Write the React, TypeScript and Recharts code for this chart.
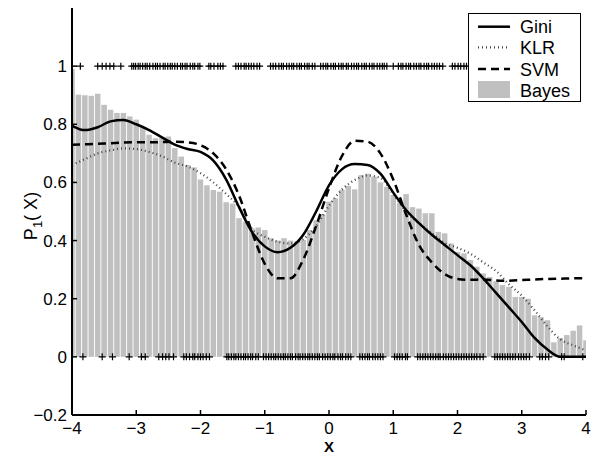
import { Bar, ComposedChart, Legend, Line, Scatter, XAxis, YAxis } from "recharts";

const FONT = "'Liberation Sans', Arial, Helvetica, sans-serif";

// histogram bins of the Bayes posterior, one every 0.1 from -4 to 4
const binX = Array.from({ length: 81 }, (_, i) => Math.round((-4 + i * 0.1) * 10) / 10);
const bayes = [
  0.99, 0.902, 0.9, 0.898, 0.905, 0.867, 0.85, 0.839, 0.839, 0.827,
  0.816, 0.79, 0.764, 0.752, 0.752, 0.758, 0.718, 0.689, 0.66, 0.652,
  0.61, 0.59, 0.574, 0.568, 0.532, 0.527, 0.477, 0.465, 0.442, 0.445,
  0.436, 0.408, 0.4, 0.408, 0.4, 0.396, 0.402, 0.436, 0.47, 0.49,
  0.534, 0.545, 0.574, 0.588, 0.576, 0.625, 0.63, 0.62, 0.6, 0.585,
  0.557, 0.53, 0.56, 0.515, 0.51, 0.494, 0.494, 0.43, 0.425, 0.39,
  0.361, 0.356, 0.333, 0.31, 0.287, 0.275, 0.26, 0.247, 0.241, 0.206,
  0.206, 0.2, 0.143, 0.137, 0.126, 0.05, 0.065, 0.075, 0.09, 0.108,
  0.057,
];

// estimated curves, sampled every 0.2
const curveX = Array.from({ length: 41 }, (_, i) => Math.round((-4 + i * 0.2) * 10) / 10);
const gini = [
  0.795, 0.78, 0.79, 0.81, 0.815, 0.8, 0.78, 0.755, 0.73, 0.715,
  0.705, 0.675, 0.61, 0.515, 0.43, 0.38, 0.36, 0.375, 0.42, 0.5,
  0.59, 0.645, 0.663, 0.66, 0.63, 0.565, 0.505, 0.46, 0.42, 0.385,
  0.35, 0.315, 0.27, 0.22, 0.17, 0.12, 0.065, 0.025, 0, 0,
  0,
];
const klr = [
  0.66, 0.68, 0.7, 0.71, 0.717, 0.715, 0.705, 0.69, 0.668, 0.655,
  0.632, 0.6, 0.56, 0.515, 0.44, 0.413, 0.396, 0.39, 0.405, 0.45,
  0.52, 0.575, 0.608, 0.624, 0.615, 0.56, 0.5, 0.46, 0.425, 0.392,
  0.375, 0.355, 0.325, 0.295, 0.25, 0.21, 0.16, 0.105, 0.06, 0.04,
  0.022,
];
const svm = [
  0.73, 0.731, 0.733, 0.735, 0.737, 0.738, 0.738, 0.739, 0.74, 0.738,
  0.728, 0.7, 0.645, 0.555, 0.43, 0.32, 0.27, 0.27, 0.335, 0.45,
  0.58, 0.69, 0.743, 0.74, 0.7, 0.61, 0.49, 0.385, 0.325, 0.285,
  0.268, 0.265, 0.266, 0.263, 0.262, 0.264, 0.266, 0.268, 0.269, 0.27,
  0.27,
];

// training points of each class
const classOne = [
  -3.87, -3.6, -3.53, -3.47, -3.41, -3.35, -3.24,
  -3.07, -3.04, -3.01, -2.97, -2.94, -2.9, -2.86, -2.83, -2.79, -2.74, -2.7, -2.67, -2.63, -2.58,
  -2.55, -2.51, -2.47, -2.44, -2.4, -2.36, -2.31, -2.28, -2.24, -2.21, -2.16, -2.12, -2.09, -2.04, -2.01,
  -1.87, -1.84, -1.79, -1.73, -1.69, -1.65,
  -1.45, -1.41, -1.37, -1.32, -1.29, -1.25, -1.21, -1.17, -1.12, -1.08,
  -0.91, -0.87, -0.83, -0.78, -0.74, -0.71, -0.66, -0.62, -0.58, -0.55, -0.5, -0.46, -0.43, -0.38,
  -0.34, -0.31, -0.26, -0.22,
  -0.13, -0.09, -0.05, -0.02, 0.03, 0.07, 0.1, 0.15, 0.19, 0.22, 0.27, 0.3, 0.35, 0.39, 0.43, 0.46,
  0.51, 0.55, 0.58, 0.63, 0.67, 0.7, 0.75, 0.79, 0.83, 0.86, 0.9,
  1.0,
  1.08, 1.12, 1.15, 1.2, 1.24, 1.27, 1.32, 1.36, 1.4, 1.43, 1.48, 1.52, 1.55, 1.6, 1.64, 1.68, 1.72, 1.77,
  1.92, 1.96, 2.01, 2.05, 2.1, 2.14,
  2.3, 2.38, 2.45, 2.6, 2.75, 2.9, 3.1, 3.3, 3.5,
];
const classZero = [
  -3.83, -3.53, -3.37, -3.11, -2.92, -2.86,
  -2.65, -2.59, -2.54, -2.49, -2.42,
  -2.26, -2.22, -2.17, -2.12, -2.09, -2.04, -2.0, -1.96, -1.91, -1.86,
  -1.59, -1.56, -1.52, -1.48, -1.45, -1.41, -1.37, -1.33, -1.3, -1.26, -1.22, -1.19, -1.14, -1.1,
  -1.02, -0.98, -0.94, -0.9, -0.86, -0.83, -0.79, -0.75, -0.71, -0.68, -0.64, -0.6, -0.57, -0.52,
  -0.48, -0.45, -0.41, -0.37, -0.33, -0.3, -0.26, -0.22, -0.18, -0.15,
  -0.1, -0.06, -0.02, 0.02, 0.06, 0.09, 0.14, 0.18, 0.21, 0.26, 0.3, 0.34,
  0.48, 0.52, 0.56, 0.6, 0.63, 0.68, 0.72, 0.76, 0.8, 0.84,
  1.02, 1.06, 1.1, 1.14, 1.19, 1.22,
  1.38, 1.42, 1.46, 1.5, 1.54, 1.58, 1.62, 1.66, 1.7, 1.73, 1.78, 1.82, 1.86, 1.9, 1.94, 1.98,
  2.02, 2.06, 2.1, 2.14, 2.18, 2.22, 2.26, 2.3, 2.35, 2.4,
  2.58, 2.62, 2.66, 2.7, 2.74, 2.78, 2.82, 2.86, 2.9, 2.95, 2.99, 3.03, 3.07, 3.12,
  3.28, 3.32, 3.37, 3.42,
  3.62, 3.66, 3.95,
];

const xTicks = [-4, -3, -2, -1, 0, 1, 2, 3, 4];
const yTicks = [-0.2, 0, 0.2, 0.4, 0.6, 0.8, 1];
const xMin = -4;
const xMax = 4;

const barData = binX.map((x, i) => ({ x, bayes: bayes[i] }));
const giniData = curveX.map((x, i) => ({ x, v: gini[i] }));
const klrData = curveX.map((x, i) => ({ x, v: klr[i] }));
const svmData = curveX.map((x, i) => ({ x, v: svm[i] }));
const onePoints = classOne.map((x) => ({ x, y: 1 }));
const zeroPoints = classZero.map((x) => ({ x, y: 0 }));

const fmt = (v: number) => (v < 0 ? "\u2212" + Math.abs(v) : String(v));
const tickStyle = { fontSize: 17, fill: "#000", fontFamily: FONT };
const axisLine = { stroke: "#000", strokeWidth: 2 };
const tickLine = { stroke: "#000", strokeWidth: 1.5 };

// bin bar: keep the library's centre, fixed bin width; edge bins are cut at the axis
function BinBar(props: any) {
  const { x, y, width, height, payload } = props;
  if (x == null || height == null) return null;
  const cx = x + width / 2;
  const half = 2.75;
  const left = payload && payload.x <= xMin ? cx : cx - half;
  const right = payload && payload.x >= xMax ? cx : cx + half;
  return <rect x={left} y={y} width={right - left} height={height} fill="#c0c0c0" />;
}

function Cross(props: any) {
  const { cx, cy } = props;
  if (cx == null || cy == null) return null;
  return (
    <path
      d={`M${cx - 3.5},${cy}H${cx + 3.5}M${cx},${cy - 3.5}V${cy + 3.5}`}
      stroke="#000"
      strokeWidth={1.2}
      fill="none"
    />
  );
}

function LegendBox() {
  return (
    <svg width={113} height={89} style={{ display: "block" }}>
      <rect x={0.5} y={0.5} width={112} height={88} fill="#fff" stroke="#000" strokeWidth={1} />
      <line x1={10} x2={42} y1={13.7} y2={13.7} stroke="#000" strokeWidth={2.5} />
      <line x1={10} x2={42} y1={34.3} y2={34.3} stroke="#444" strokeWidth={2.2} strokeDasharray="1 3" />
      <line x1={10} x2={42} y1={56} y2={56} stroke="#000" strokeWidth={2.5} strokeDasharray="8 5" />
      <rect x={10} y={68} width={32} height={17} fill="#c0c0c0" />
      <g fontSize={18} fontFamily={FONT} fill="#000">
        <text x={52} y={20}>Gini</text>
        <text x={52} y={41}>KLR</text>
        <text x={52} y={62.5}>SVM</text>
        <text x={52} y={83.5}>Bayes</text>
      </g>
    </svg>
  );
}

export default function App() {
  return (
    <div style={{ position: "absolute", left: 0, top: 0, background: "#fff" }}>
      <ComposedChart
        width={594}
        height={456}
        data={barData}
        margin={{ top: 8, right: 8, bottom: 0, left: 0 }}
      >
        <XAxis
          dataKey="x"
          type="number"
          domain={[xMin, xMax]}
          allowDataOverflow
          ticks={xTicks}
          tickFormatter={fmt}
          height={41}
          tickSize={-5}
          tickMargin={12}
          tick={tickStyle}
          axisLine={axisLine}
          tickLine={tickLine}
          label={{
            value: "X",
            position: "insideBottom",
            offset: 4,
            style: { fontSize: 15, fontWeight: 700, fill: "#000", fontFamily: FONT },
          }}
        />
        <XAxis
          xAxisId="top"
          orientation="top"
          type="number"
          domain={[xMin, xMax]}
          allowDataOverflow
          ticks={xTicks}
          tickFormatter={() => ""}
          height={0}
          tickSize={-5}
          axisLine={axisLine}
          tickLine={tickLine}
        />
        <YAxis
          type="number"
          domain={[-0.2, 1.2]}
          allowDataOverflow
          ticks={yTicks}
          tickFormatter={fmt}
          width={72}
          tickSize={-5}
          tickMargin={10}
          tick={tickStyle}
          axisLine={axisLine}
          tickLine={tickLine}
          label={{
            content: () => (
              <text
                transform="translate(37,216) rotate(-90)"
                textAnchor="middle"
                fontSize={18}
                fontFamily={FONT}
                fill="#000"
              >
                P
                <tspan dy={5} fontSize={13}>1</tspan>
                <tspan dy={-5}>( X)</tspan>
              </text>
            ),
          }}
        />
        <YAxis
          yAxisId="right"
          orientation="right"
          type="number"
          domain={[-0.2, 1.2]}
          allowDataOverflow
          ticks={yTicks}
          tickFormatter={() => ""}
          width={0}
          tickSize={-5}
          axisLine={axisLine}
          tickLine={tickLine}
        />
        <Bar dataKey="bayes" fill="#c0c0c0" shape={<BinBar />} isAnimationActive={false} />
        <Scatter data={zeroPoints} dataKey="y" shape={<Cross />} isAnimationActive={false} />
        <Scatter data={onePoints} dataKey="y" shape={<Cross />} isAnimationActive={false} />
        <Line
          data={klrData}
          dataKey="v"
          type="monotone"
          stroke="#444"
          strokeWidth={2.2}
          strokeDasharray="1 3"
          dot={false}
          activeDot={false}
          isAnimationActive={false}
        />
        <Line
          data={svmData}
          dataKey="v"
          type="monotone"
          stroke="#000"
          strokeWidth={2.5}
          strokeDasharray="8 5"
          dot={false}
          activeDot={false}
          isAnimationActive={false}
        />
        <Line
          data={giniData}
          dataKey="v"
          type="monotone"
          stroke="#000"
          strokeWidth={2.5}
          dot={false}
          activeDot={false}
          isAnimationActive={false}
        />
        <Legend
          layout="vertical"
          align="center"
          verticalAlign="middle"
          content={() => <LegendBox />}
          wrapperStyle={{ left: 468, top: 13, width: 113, height: 89 }}
        />
      </ComposedChart>
    </div>
  );
}
